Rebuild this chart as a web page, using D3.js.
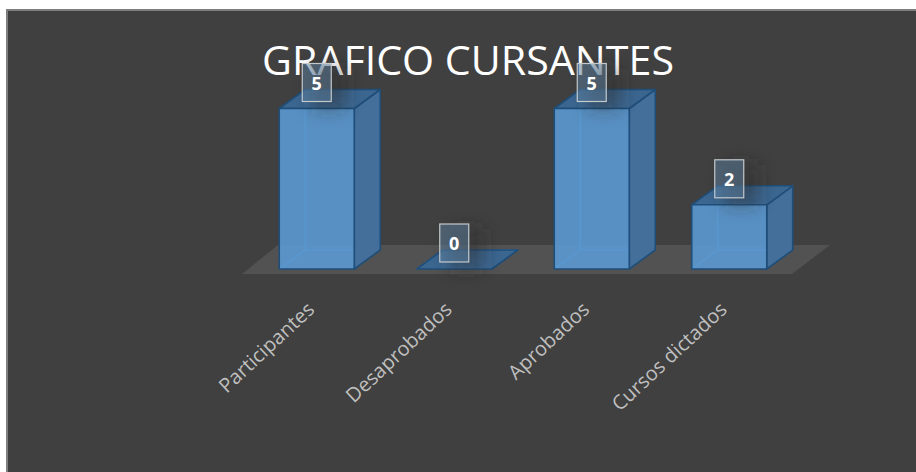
<!DOCTYPE html>
<html lang="es">
<head>
<meta charset="utf-8">
<title>Grafico cursantes</title>
<script src="https://cdnjs.cloudflare.com/ajax/libs/d3/7.1.1/d3.min.js"></script>
<style>
html, body { margin: 0; padding: 0; background: #fff; }
svg { display: block; }
text { font-family: "Open Sans", sans-serif; }
</style>
</head>
<body>
<div id="chart"></div>
<script>
// data
const categories = ["Participantes", "Desaprobados", "Aprobados", "Cursos dictados"];
const values = [5, 0, 5, 2];
const titleText = "GRAFICO CURSANTES";

const width = 916;
const height = 472;
const depthX = 26;
const depthY = 19;

const svg = d3.select("#chart").append("svg")
  .attr("width", width)
  .attr("height", height);

// panel
svg.append("rect").attr("x", 7).attr("y", 10).attr("width", width).attr("height", height)
  .attr("fill", "#404040").attr("stroke", "#7f7f7f").attr("stroke-width", 2);

const x = d3.scaleBand().domain(categories).range([248, 798])
  .paddingInner(0.4545).paddingOuter(0.2273);
const y = d3.scaleLinear().domain([0, 5]).range([269, 108.5]);

const defs = svg.append("defs");
defs.append("filter").attr("id", "blur")
  .attr("x", "-100%").attr("y", "-100%").attr("width", "300%").attr("height", "300%")
  .append("feGaussianBlur").attr("stdDeviation", 9);

// floor
const floorFront = y(0) + 5;
const floorBack = y(0) - 24;
svg.append("path")
  .attr("d", d3.line()([[x.range()[0] - 6, floorFront], [x.range()[0] + 30, floorBack], [x.range()[1] + 32, floorBack], [x.range()[1] - 6, floorFront]]) + "Z")
  .attr("fill", "#525252");

const outline = "#1f4e79";
const line = d3.line();

const bars = svg.append("g").selectAll("g")
  .data(categories.map((c, i) => ({ c, v: values[i] })))
  .join("g");

// back faces show through the front
bars.append("path")
  .attr("d", d => line([[x(d.c) + depthX, y(d.v) - depthY], [x(d.c) + depthX, y(0) - depthY], [x(d.c), y(0)]]) + "M" + (x(d.c) + depthX) + "," + (y(0) - depthY) + "H" + (x(d.c) + x.bandwidth() + depthX))
  .attr("fill", "none").attr("stroke", "#4a86c0").attr("stroke-width", 1.2);

// right side
bars.append("path")
  .attr("d", d => line([
    [x(d.c) + x.bandwidth(), y(d.v)],
    [x(d.c) + x.bandwidth() + depthX, y(d.v) - depthY],
    [x(d.c) + x.bandwidth() + depthX, y(0) - depthY],
    [x(d.c) + x.bandwidth(), y(0)]]) + "Z")
  .attr("fill", "#446f9b").attr("stroke", outline).attr("stroke-width", 1.6).attr("stroke-linejoin", "round");

// top
bars.append("path")
  .attr("d", d => line([
    [x(d.c), y(d.v)],
    [x(d.c) + depthX, y(d.v) - depthY],
    [x(d.c) + x.bandwidth() + depthX, y(d.v) - depthY],
    [x(d.c) + x.bandwidth(), y(d.v)]]) + "Z")
  .attr("fill", "#3b6690").attr("stroke", outline).attr("stroke-width", 1.6).attr("stroke-linejoin", "round");

// front
bars.append("rect")
  .attr("x", d => x(d.c))
  .attr("y", d => y(d.v))
  .attr("width", x.bandwidth())
  .attr("height", d => y(0) - y(d.v))
  .attr("fill", "#5b9bd5").attr("fill-opacity", 0.88)
  .attr("stroke", outline).attr("stroke-width", 1.6).attr("stroke-linejoin", "round");

// category labels
const axis = svg.append("g")
  .attr("transform", `translate(0,${y(0)})`)
  .call(d3.axisBottom(x).tickSize(0));
axis.select(".domain").remove();
axis.selectAll("text")
  .attr("fill", "#bfbfbf")
  .style("font-size", "20px")
  .style("font-family", "'Open Sans', sans-serif")
  .attr("text-anchor", "end")
  .attr("dx", 0).attr("dy", 0).attr("x", 0).attr("y", 0)
  .attr("transform", "translate(-1,42) rotate(-43)");

// title
svg.append("text")
  .attr("x", 468).attr("y", 75)
  .attr("text-anchor", "middle")
  .attr("fill", "#ffffff")
  .attr("textLength", 412).attr("lengthAdjust", "spacingAndGlyphs")
  .style("font-size", "40px")
  .text(titleText);

// value labels with a soft shadow behind the box
const boxW = 29;
const boxH = 38;
const labels = svg.append("g").selectAll("g")
  .data(categories.map((c, i) => ({ c, v: values[i] })))
  .join("g")
  .attr("transform", d => `translate(${x(d.c) + x.bandwidth() / 2},${y(d.v) - 7})`);

labels.append("rect")
  .attr("x", -boxW / 2 + 10).attr("y", -boxH + 5).attr("width", boxW + 4).attr("height", boxH + 2)
  .attr("fill", "#2a2a2a").attr("fill-opacity", 0.5).attr("filter", "url(#blur)");

labels.append("rect")
  .attr("x", -boxW / 2).attr("y", -boxH).attr("width", boxW).attr("height", boxH)
  .attr("fill", "#5b7f9f").attr("fill-opacity", 0.5)
  .attr("stroke", "#c4c9cc").attr("stroke-width", 1.2);

labels.append("text")
  .attr("y", -boxH / 2 + 7)
  .attr("text-anchor", "middle")
  .attr("fill", "#fff")
  .style("font-size", "18px").style("font-weight", 700)
  .text(d => d.v);
</script>
</body>
</html>
